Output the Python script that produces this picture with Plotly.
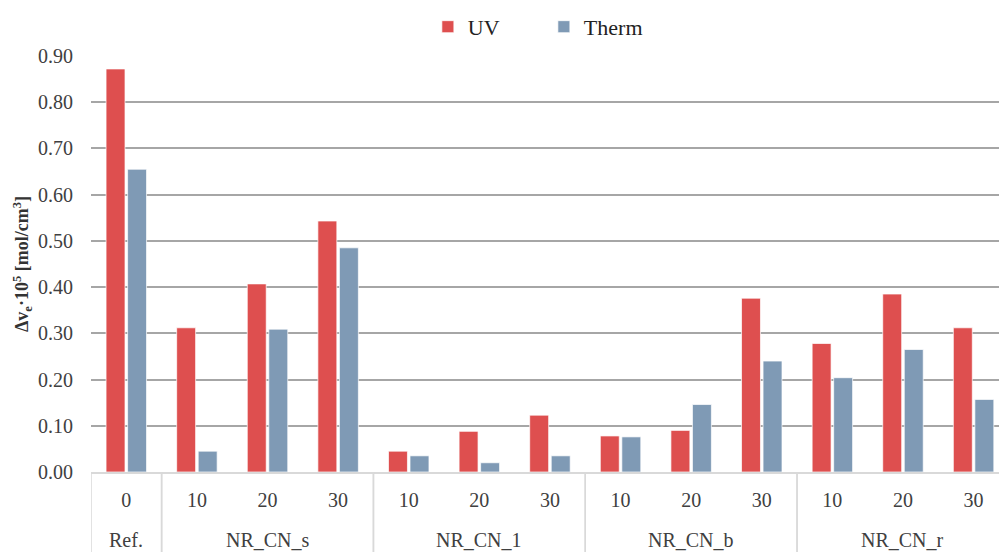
import plotly.graph_objects as go

# Sample groups and filler contents (phr)
groups = ["Ref.", "NR_CN_s", "NR_CN_s", "NR_CN_s", "NR_CN_1", "NR_CN_1", "NR_CN_1",
          "NR_CN_b", "NR_CN_b", "NR_CN_b", "NR_CN_r", "NR_CN_r", "NR_CN_r"]
contents = ["0", "10", "20", "30", "10", "20", "30", "10", "20", "30", "10", "20", "30"]

# Change in crosslink density, Δv_e·10^5 [mol/cm^3]
uv = [0.872, 0.312, 0.407, 0.543, 0.045, 0.088, 0.123, 0.078, 0.090, 0.376, 0.278, 0.385, 0.312]
therm = [0.655, 0.045, 0.309, 0.485, 0.035, 0.020, 0.035, 0.076, 0.146, 0.240, 0.204, 0.265, 0.157]

y_ticks = [0.0, 0.1, 0.2, 0.3, 0.4, 0.5, 0.6, 0.7, 0.8, 0.9]

FONT = "Liberation Serif"
TEXT = "#404040"
DIVIDER = "#D9D9D9"

pos = list(range(len(contents)))

fig = go.Figure()
fig.add_bar(x=pos, y=uv, name="UV", marker_color="#DE4F4F",
            marker_line=dict(color="rgba(255,255,255,0.7)", width=1))
fig.add_bar(x=pos, y=therm, name="Therm", marker_color="#7F9AB5",
            marker_line=dict(color="rgba(255,255,255,0.7)", width=1))

# Group spans along the category axis
spans = []
for i, g in enumerate(groups):
    if spans and spans[-1][0] == g:
        spans[-1][2] = i
    else:
        spans.append([g, i, i])

shapes = []
annotations = []
for g, a, b in spans:
    annotations.append(dict(x=(a + b) / 2, xref="x", y=-0.163, yref="paper",
                            text=g, showarrow=False, yanchor="middle",
                            font=dict(family=FONT, size=20, color=TEXT)))
    for edge in (a - 0.5, b + 0.5):
        shapes.append(dict(type="line", xref="x", yref="paper", x0=edge, x1=edge,
                           y0=0, y1=-0.25, line=dict(color=DIVIDER, width=1.5)))

fig.update_layout(
    width=999, height=552,
    margin=dict(l=91, r=0, t=56, b=80),
    paper_bgcolor="white", plot_bgcolor="white",
    barmode="group", bargap=0.39, bargroupgap=0.12,
    font=dict(family=FONT, color=TEXT, size=20),
    legend=dict(orientation="h", x=0.371, xanchor="left", y=1.07, yanchor="middle",
                font=dict(size=22, color="#222222"), itemwidth=30,
                entrywidth=71, entrywidthmode="pixels", traceorder="normal"),
    shapes=shapes,
    annotations=annotations,
    xaxis=dict(
        range=[-0.5, 12.36], automargin=False, tickvals=pos, ticktext=contents,
        showline=True, linecolor=DIVIDER, linewidth=2, zeroline=False,
        ticks="", ticklabelstandoff=9, tickfont=dict(size=20, color=TEXT, family=FONT),
        showgrid=False,
    ),
    yaxis=dict(
        range=[0, 0.9], tickvals=y_ticks, tickformat=".2f", automargin=False,
        showgrid=True, gridcolor="#A6A6A6", gridwidth=1.5, zeroline=False,
        ticks="", ticklabelstandoff=17, tickfont=dict(size=20, color=TEXT, family=FONT),
        title=dict(text="<b>Δv<sub>e</sub>·10<sup>5</sup> [mol/cm<sup>3</sup>]</b>",
                   font=dict(size=18, color="#333333", family=FONT), standoff=4),
    ),
)

fig.write_html("out.html")
